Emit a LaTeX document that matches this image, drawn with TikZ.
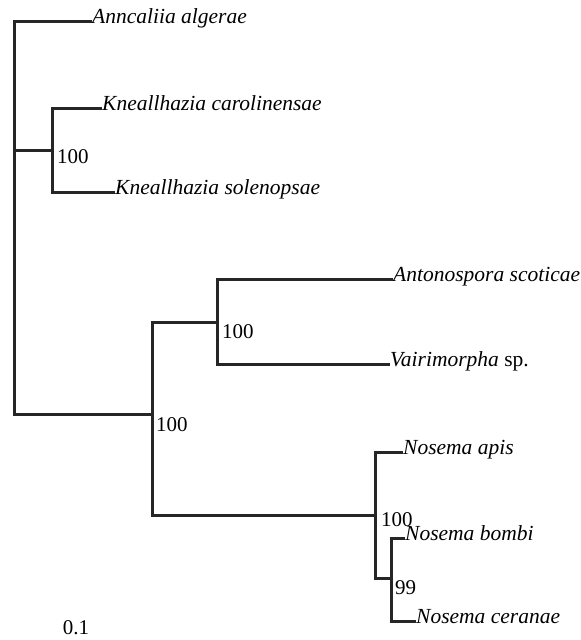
\documentclass[tikz,border=0pt]{standalone}
\usepackage{fontspec}
\setmainfont{Liberation Serif}
\begin{document}
\begin{tikzpicture}[x=1pt,y=-1pt,
  branch/.style={line width=3pt,line join=miter,line cap=butt,color=black!85},
  taxon/.style={anchor=mid west,inner sep=0pt,font=\fontsize{21.5}{24}\selectfont\itshape},
  boot/.style={anchor=west,inner sep=0pt,font=\fontsize{21}{24}\selectfont},
  scalelab/.style={inner sep=0pt,font=\fontsize{21}{24}\selectfont}]
\useasboundingbox (0,0) rectangle (581,640);
% taxa
\node[taxon] (aa) at (92,21) {Anncaliia algerae};
\node[taxon] (kc) at (102,108) {Kneallhazia carolinensae};
\node[taxon] (ks) at (115,192) {Kneallhazia solenopsae};
\node[taxon] (as) at (393,279) {Antonospora scoticae};
\node[taxon] (vs) at (390,364) {Vairimorpha\/\upshape\ sp.};
\node[taxon] (na) at (403,452) {Nosema apis};
\node[taxon] (nb) at (405,538) {Nosema bombi};
\node[taxon] (nc) at (416,621) {Nosema ceranae};
% internal nodes
\coordinate (rt) at (14,21);
\coordinate (rk) at (14,150);
\coordinate (rb) at (14,414);
\coordinate (k) at (52,150);
\coordinate (b) at (152,414);
\coordinate (av) at (217,322);
\coordinate (n) at (375,515);
\coordinate (bc) at (391,578);
% branches
\draw[branch] (aa.mid west) -- (rt) -- (rb) -- (b);
\draw[branch] (rk) -- (k);
\draw[branch] (kc.mid west) -| (k) |- (ks.mid west);
\draw[branch] (av) -| (b) |- (n);
\draw[branch] (as.mid west) -| (av) |- (vs.mid west);
\draw[branch] (na.mid west) -| (n) |- (bc);
\draw[branch] (nb.mid west) -| (bc) |- (nc.mid west);
% support values
\node[boot] (s1) at (57,157) {100};
\node[boot] (s2) at (222,332) {100};
\node[boot] (s3) at (156,425) {100};
\node[boot,anchor=base west] (s4) at (381,526) {100};
\node[boot] (s5) at (395,588) {99};
% scale
\node[scalelab] (sc) at (76,628) {0.1};
\end{tikzpicture}
\end{document}
